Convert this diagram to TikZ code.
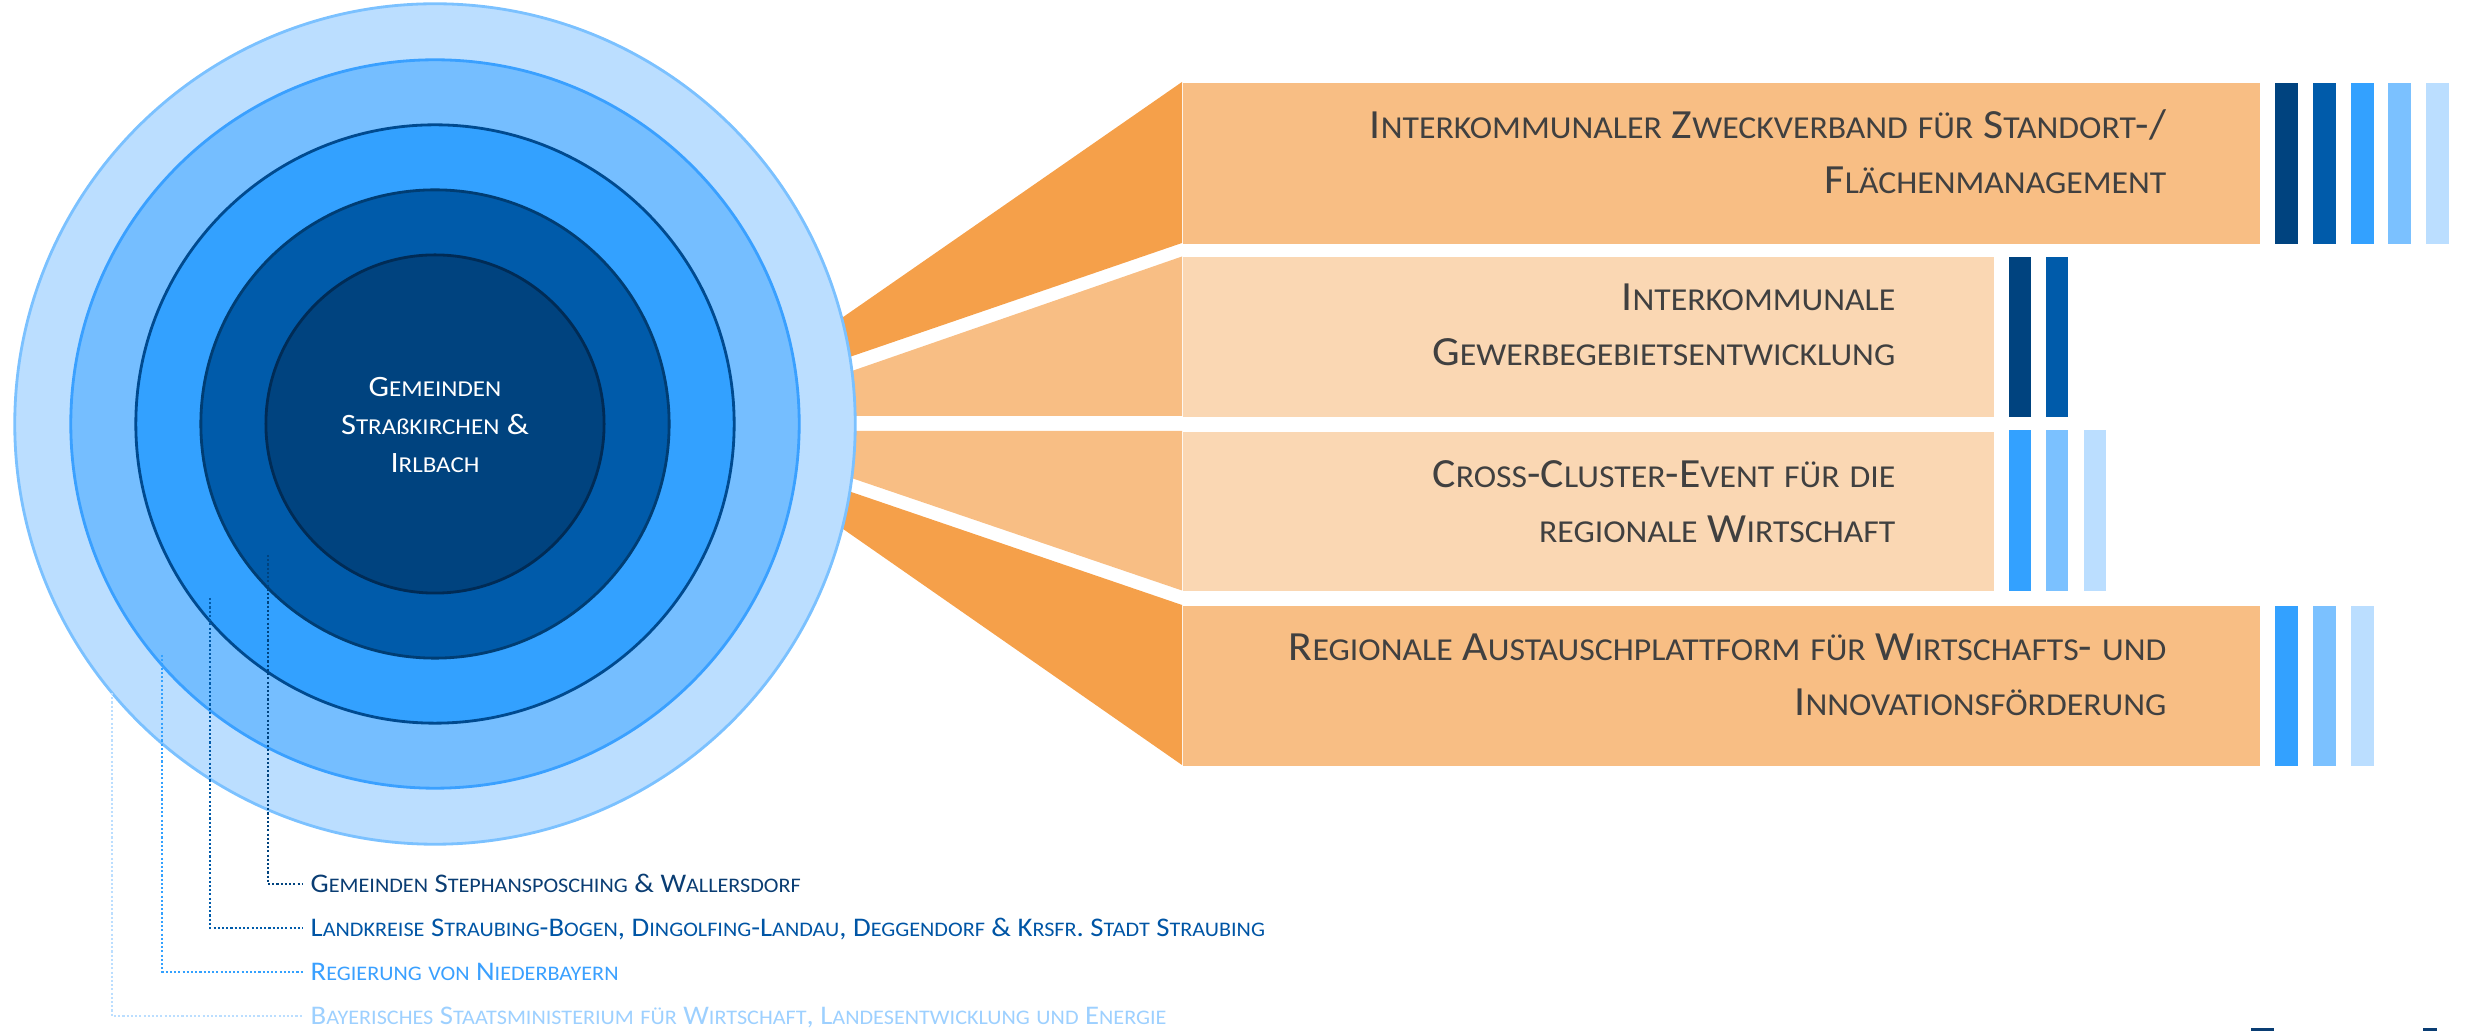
\documentclass[tikz,border=0pt]{standalone}
\usepackage{fontspec}
\usepackage{graphicx}
\setmainfont{Carlito}
\definecolor{bA}{HTML}{00437F}
\definecolor{bB}{HTML}{005BAA}
\definecolor{bC}{HTML}{33A1FF}
\definecolor{bD}{HTML}{7BC1FF}
\definecolor{bE}{HTML}{BBDEFF}
\definecolor{rimA}{HTML}{002B55}
\definecolor{rimB}{HTML}{003D73}
\definecolor{rimC}{HTML}{004A8F}
\definecolor{rimD}{HTML}{3AA0FF}
\definecolor{rimE}{HTML}{7BC1FF}
\definecolor{ringD}{HTML}{75BEFF}
\definecolor{oDark}{HTML}{F5A04A}
\definecolor{oMid}{HTML}{F8BE84}
\definecolor{oLight}{HTML}{FAD7B3}
\definecolor{txt}{HTML}{404040}
\definecolor{legA}{HTML}{0A3D73}
\definecolor{legB}{HTML}{0055A5}
\definecolor{legC}{HTML}{3AA0FF}
\definecolor{legD}{HTML}{9DD0FF}
\def\fscfactor{1}
\ExplSyntaxOn
\cs_new_protected:Npn \fsc_small:n #1
  {
    \group_begin:
    \fontsize{ \fp_eval:n { 0.77 * \use:c{f@size} } }{ \use:c{f@baselineskip} }\selectfont
    #1
    \group_end:
  }
\cs_new_protected:Npn \fsc_char:N #1
  {
    \token_if_letter:NTF #1
      {
        \str_if_eq:nnTF {#1} {ß}
          { \fsc_small:n {ß} }
          {
            \str_if_eq:eeTF { \text_uppercase:n {#1} } { #1 }
              { #1 }
              { \fsc_small:n { \text_uppercase:n {#1} } }
          }
      }
      { #1 }
  }
\cs_new_protected:Npn \fsc_line:n #1
  {
    \seq_set_split:Nnn \l_tmpa_seq { ~ } { #1 }
    \seq_map_indexed_inline:Nn \l_tmpa_seq
      { \int_compare:nNnT {##1} > {1} { ~ } \tl_map_function:nN {##2} \fsc_char:N }
  }
\NewDocumentCommand \fsc { m }
  { \scalebox{\fscfactor}[1]{ \fsc_line:n {#1} } }
\ExplSyntaxOff
\tikzset{
  disc/.style={circle, inner sep=0pt, line width=0.8pt},
  bar/.style={inner sep=0pt, minimum width=0.23cm},
  boxtext/.style={inner sep=0pt, align=right, text=txt, font=\fontsize{11.8}{15.9}\selectfont\def\fscfactor{1.056}},
  legtext/.style={inner sep=0pt, text depth=0pt, anchor=base west, font=\fontsize{7.65}{9}\selectfont\def\fscfactor{1.07}},
  legline/.style={line width=0.6pt, dash pattern=on 0.6pt off 0.6pt}
}
\begin{document}
\begin{tikzpicture}[x=0.01cm, y=-0.01cm]
\useasboundingbox (0,0) rectangle (2468,1031);
% wedges
\fill[oDark] (1182,82) -- (1182,243) -- (800,374) -- (800,347) -- cycle;
\fill[oMid]  (1182,256.5) -- (1182,416) -- (800,416) -- (800,389) -- cycle;
\fill[oMid]  (1182,431) -- (1182,590.5) -- (800,460.5) -- (800,431) -- cycle;
\fill[oDark] (1182,605) -- (1182,765) -- (800,499) -- (800,474.5) -- cycle;
% boxes
\node[fill=oMid, inner sep=0pt, minimum width=10.77cm, minimum height=1.61cm, anchor=north west] (box1) at (1182,82) {};
\node[fill=oLight, inner sep=0pt, minimum width=8.11cm, minimum height=1.595cm, anchor=north west] (box2) at (1182,256.5) {};
\node[fill=oLight, inner sep=0pt, minimum width=8.11cm, minimum height=1.595cm, anchor=north west] (box3) at (1182,431) {};
\node[fill=oMid, inner sep=0pt, minimum width=10.77cm, minimum height=1.60cm, anchor=north west] (box4) at (1182,605) {};
% bars
\foreach \c/\x [count=\i] in {bA/2274,bB/2312,bC/2350,bD/2387,bE/2425}
  \node[bar, fill=\c, minimum height=1.61cm, anchor=north west] (r1b\i) at (\x,82) {};
\foreach \c/\x [count=\i] in {bA/2008,bB/2045}
  \node[bar, fill=\c, minimum width=0.22cm, minimum height=1.60cm, anchor=north west] (r2b\i) at (\x,256) {};
\foreach \c/\x [count=\i] in {bC/2008,bD/2045,bE/2083}
  \node[bar, fill=\c, minimum width=0.22cm, minimum height=1.61cm, anchor=north west] (r3b\i) at (\x,429.5) {};
\foreach \c/\x [count=\i] in {bC/2274,bD/2312,bE/2350}
  \node[bar, fill=\c, minimum height=1.60cm, anchor=north west] (r4b\i) at (\x,605) {};
% box texts
\node[boxtext, anchor=base east] (t1) at (2167,194) {\fsc{Interkommunaler Zweckverband für Standort-/}\\\fsc{Flächenmanagement}};
\node[boxtext, anchor=base east] (t2) at (1896,366) {\fsc{Interkommunale}\\\fsc{Gewerbegebietsentwicklung}};
\node[boxtext, anchor=base east] (t3) at (1896,543) {\fsc{Cross-Cluster-Event für die}\\\fsc{regionale Wirtschaft}};
\node[boxtext, anchor=base east] (t4) at (2167,716) {\fsc{Regionale Austauschplattform für Wirtschafts- und}\\\fsc{Innovationsförderung}};
% circles
\node[disc, fill=bE, draw=rimE, minimum size=8.40cm] (c5) at (435,424) {};
\node[disc, fill=ringD, draw=rimD, minimum size=7.28cm] (c4) at (435,424) {};
\node[disc, fill=bC, draw=rimC, minimum size=5.98cm] (c3) at (435,424) {};
\node[disc, fill=bB, draw=rimB, minimum size=4.68cm] (c2) at (435,424) {};
\node[disc, fill=bA, draw=rimA, minimum size=3.38cm] (c1) at (435,424) {};
\node[inner sep=0pt, align=center, text=white, anchor=base, font=\fontsize{8.4}{10.9}\selectfont\def\fscfactor{1.10}] (ctext) at (435,473) {\fsc{Gemeinden}\\\fsc{Straßkirchen \&}\\\fsc{Irlbach}};
% legend
\node[legtext, text=legA] (l1) at (310,893) {\fsc{Gemeinden Stephansposching \& Wallersdorf}};
\node[legtext, text=legB] (l2) at (310,937) {\fsc{Landkreise Straubing-Bogen, Dingolfing-Landau, Deggendorf \& Krsfr. Stadt Straubing}};
\node[legtext, text=legC] (l3) at (310,981) {\fsc{Regierung von Niederbayern}};
\node[legtext, text=legD] (l4) at (310,1025) {\fsc{Bayerisches Staatsministerium für Wirtschaft, Landesentwicklung und Energie}};
\coordinate (p1) at (267.7,555);
\coordinate (p2) at (210,598);
\coordinate (p3) at (162.3,655);
\coordinate (p4) at (112.3,693);
\draw[legline, draw=bA] (p1) |- ([xshift=-2]l1.west);
\draw[legline, draw=bB] (p2) |- ([xshift=-2]l2.west);
\draw[legline, draw=bC] (p3) |- ([xshift=-2]l3.west);
\draw[legline, draw=bE] (p4) |- ([xshift=-2]l4.west);
% cut-off marks at the bottom edge
\fill[legA] (2251,1028.5) rectangle (2274,1031);
\fill[legA] (2423,1028.5) rectangle (2437,1031);
\end{tikzpicture}
\end{document}
